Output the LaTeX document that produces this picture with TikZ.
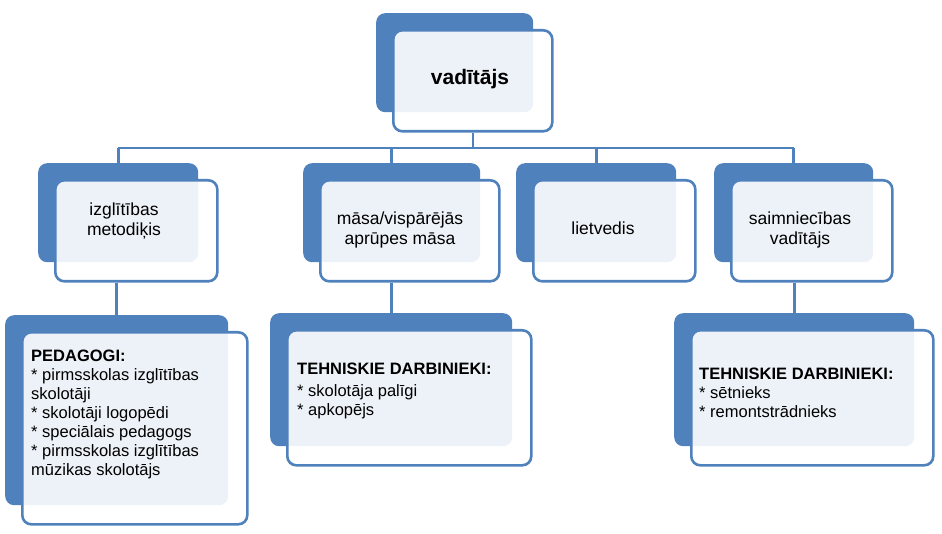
\documentclass[tikz,border=0pt]{standalone}
\usepackage{fontspec}
\setmainfont{Liberation Sans}
\usetikzlibrary{positioning}
\definecolor{unitblue}{HTML}{4F81BD}

% back plate + framed front card, offset down-right
\newcommand\orgbox[5]{%
	\node[back, minimum width=#4, minimum height=#5, anchor=north west] (#1b) at (#2,#3) {};
	\node[front, minimum width=#4+2, minimum height=#5+2, anchor=north west] (#1) at (#2+16,#3+16) {};
}

\begin{document}
\begin{tikzpicture}[x=1pt,y=-1pt,
	back/.style={fill=unitblue,rounded corners=9pt,inner sep=0pt},
	front/.style={draw=unitblue,line width=2.6pt,fill=white,fill opacity=0.9,rounded corners=9pt,inner sep=0pt},
	conn/.style={draw=unitblue,line width=2.6pt},
	label/.style={font=\fontsize{17.5}{20}\selectfont,align=center,text=black},
	list/.style={font=\fontsize{16.5}{19}\selectfont,align=left,anchor=north west,text=black,inner sep=0pt}]
	\useasboundingbox (0,0) rectangle (942,534);
	\coordinate (bus) at (0,148);
	
	\orgbox{top}{376}{13}{157}{99}
	\orgbox{met}{38}{163}{160}{99}
	\orgbox{nur}{303}{163}{177}{99}
	\orgbox{cle}{516}{163}{160}{99}
	\orgbox{ecn}{714}{163}{159}{99}
	\orgbox{ped}{5}{315}{223}{190}
	\orgbox{tec}{270}{313}{242}{133}
	\orgbox{wrk}{674}{313}{240}{133}
	
	\draw[conn] (top.south) -- (top.south |- bus);
	\draw[conn] (metb.north |- bus) -- (ecnb.north |- bus);
	\draw[conn] (metb.north |- bus) -- (metb.north);
	\draw[conn] (nurb.north |- bus) -- (nurb.north);
	\draw[conn] (cleb.north |- bus) -- (cleb.north);
	\draw[conn] (ecnb.north |- bus) -- (ecnb.north);
	\draw[conn] (pedb.north |- met.south) -- (pedb.north);
	\draw[conn] (tecb.north |- nur.south) -- (tecb.north);
	\draw[conn] (wrkb.north |- ecn.south) -- (wrkb.north);
	
	\node[label, font=\fontsize{21}{24}\selectfont\bfseries] (topt) at (470,79) {vadītājs};
	\node[label] (mett) at (124,221) {izglītības\\metodiķis};
	\node[label] (nurt) at (400,230) {māsa/vispārējās\\aprūpes māsa};
	\node[label] (clet) at (603,228) {lietvedis};
	\node[label] (ecnt) at (800,230) {saimniecības\\vadītājs};
	
	\node[list] (pedt) at (31,350) {\textbf{PEDAGOGI:}\\* pirmsskolas izglītības\\skolotāji\\* skolotāji logopēdi\\* speciālais pedagogs\\* pirmsskolas izglītības\\mūzikas skolotājs};
	\node[list] (tect) at (297,363) {\textbf{TEHNISKIE DARBINIEKI:}\\[3pt]* skolotāja palīgi\\* apkopējs};
	\node[list] (wrkt) at (699,368) {\textbf{TEHNISKIE DARBINIEKI:}\\* sētnieks\\* remontstrādnieks};
\end{tikzpicture}
\end{document}
